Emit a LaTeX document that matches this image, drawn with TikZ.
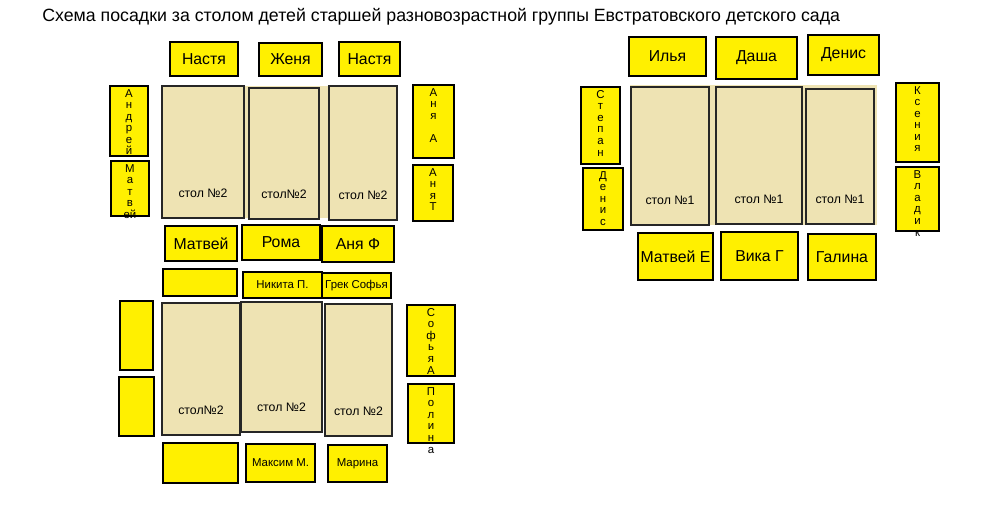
\documentclass[tikz,border=0pt]{standalone}
\usepackage{fontspec}
\setmainfont{Liberation Sans}
\definecolor{seatyellow}{RGB}{255,240,0}
\definecolor{tabletan}{RGB}{238,227,179}

% seat or table: name, x1, y1, x2, y2, style, text (pixel coordinates)
\newcommand{\place}[7]{%
  \node[#6, minimum width={(#4-#2)*0.02cm}, minimum height={(#5-#3)*0.02cm}]
    (#1) at ({(#2+#4)/2},{(#3+#5)/2}) {#7};}
% upright seat with letters set one under another
\newcommand{\vplace}[6]{%
  \place{#1}{#2}{#3}{#4}{#5}{seat}{}
  \node[vletters] at ([yshift=-2pt]#1.north) {#6};}
\newcommand{\tablelabel}[2]{%
  \node[font=\fontsize{7}{8}\selectfont, above=0.3cm] at (#1.south) {#2};}

\begin{document}
\begin{tikzpicture}[x=0.02cm, y=-0.02cm,
  seat/.style={draw=black, thick, fill=seatyellow, inner sep=0pt, align=center,
    font=\fontsize{9}{10}\selectfont},
  smallseat/.style={seat, font=\fontsize{6.5}{7}\selectfont},
  vletters/.style={anchor=north, inner sep=0pt, align=center,
    font=\fontsize{6.5}{6.6}\selectfont},
  desk/.style={draw=black!85, thick, fill=tabletan, inner sep=0pt},
  strip/.style={fill=tabletan, inner sep=0pt}]
\useasboundingbox (0,0) rectangle (1000,510);

% title
\node[anchor=base west, font=\fontsize{10.1}{12}\selectfont, inner sep=0pt] (title) at (42,22)
  {Схема посадки за столом детей старшей разновозрастной группы Евстратовского детского сада};

% ---- group 2, upper tables
\place{strip1}{244}{86}{329}{218}{strip}{}
\place{ta}{162}{86}{244}{218}{desk}{}
\place{tb}{249}{88}{319}{219}{desk}{}
\place{tc}{329}{86}{397}{220}{desk}{}
\tablelabel{ta}{стол №2}
\tablelabel{tb}{стол№2}
\tablelabel{tc}{стол №2}

\place{s1}{170}{42}{238}{76}{seat}{Настя}
\place{s2}{259}{43}{322}{76}{seat}{Женя}
\place{s3}{339}{42}{400}{76}{seat}{Настя}
\vplace{s4}{110}{86}{148}{156}{А\\н\\д\\р\\е\\й}
\vplace{s5}{111}{161}{149}{216}{М\\а\\т\\в\\ей}
\vplace{s6}{413}{85}{454}{158}{А\\н\\я\\ \\А}
\vplace{s7}{413}{165}{453}{221}{А\\н\\я\\Т}
\place{s8}{165}{226}{237}{261}{seat}{Матвей}
\place{s9}{242}{225}{320}{260}{seat}{Рома}
\place{s10}{322}{226}{394}{262}{seat}{Аня Ф}
\place{s11}{163}{269}{237}{296}{seat}{}
\place{s12}{243}{272}{322}{298}{smallseat}{Никита П.}
\place{s13}{322}{273}{391}{298}{smallseat}{Грек Софья}

% ---- group 2, lower tables
\place{td}{162}{303}{240}{435}{desk}{}
\place{te}{241}{302}{322}{432}{desk}{}
\place{tf}{325}{304}{392}{436}{desk}{}
\tablelabel{td}{стол№2}
\tablelabel{te}{стол №2}
\tablelabel{tf}{стол №2}

\place{s14}{120}{301}{153}{370}{seat}{}
\place{s15}{119}{377}{154}{436}{seat}{}
\vplace{s16}{407}{305}{455}{376}{С\\о\\ф\\ь\\я\\А}
\vplace{s17}{408}{384}{454}{443}{П\\о\\л\\и\\н\\а}
\place{s18}{163}{443}{238}{483}{seat}{}
\place{s19}{246}{444}{315}{482}{smallseat}{Максим М.}
\place{s20}{328}{445}{387}{482}{smallseat}{Марина}

% ---- group 1
\place{strip2}{630}{85}{877}{225}{strip}{}
\place{tg}{631}{87}{709}{225}{desk}{}
\place{th}{716}{87}{802}{224}{desk}{}
\place{ti}{806}{89}{874}{224}{desk}{}
\tablelabel{tg}{стол №1}
\tablelabel{th}{стол №1}
\tablelabel{ti}{стол №1}

\place{r1}{629}{37}{706}{76}{seat}{Илья}
\place{r2}{716}{37}{797}{79}{seat}{Даша}
\place{r3}{808}{35}{879}{75}{seat}{Денис}
\vplace{r4}{581}{87}{620}{164}{С\\т\\е\\п\\а\\н}
\vplace{r5}{583}{168}{623}{230}{Д\\е\\н\\и\\с}
\vplace{r6}{896}{83}{939}{162}{К\\с\\е\\н\\и\\я}
\vplace{r7}{896}{167}{939}{231}{В\\л\\а\\д\\и\\к}
\place{r8}{638}{233}{713}{280}{seat}{Матвей Е}
\place{r9}{721}{232}{798}{280}{seat}{Вика Г}
\place{r10}{808}{234}{876}{280}{seat}{Галина}
\end{tikzpicture}
\end{document}
